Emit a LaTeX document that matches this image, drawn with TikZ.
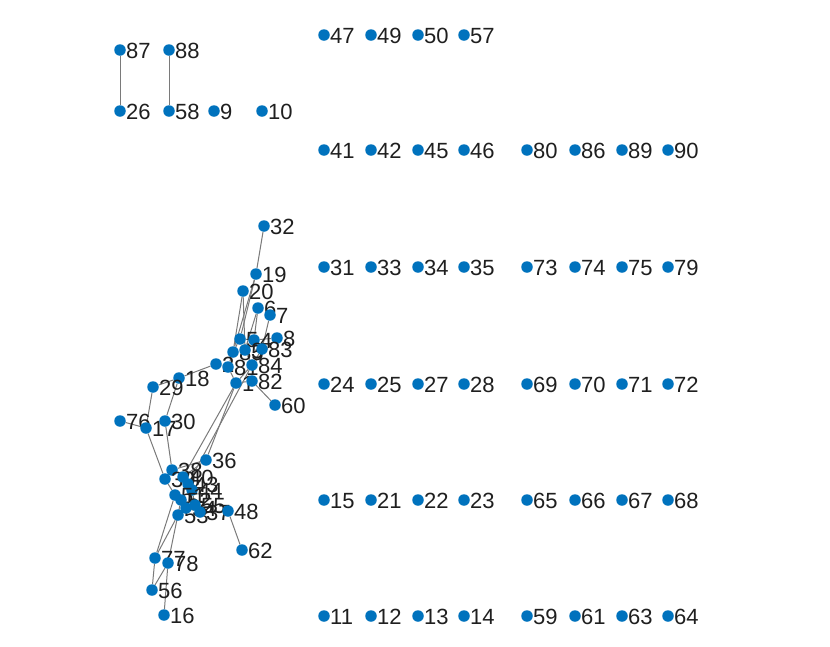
\documentclass[tikz,border=0pt]{standalone}
\usepackage{fontspec}
\setmainfont{Liberation Sans}
\usetikzlibrary{backgrounds}
\definecolor{mblue}{RGB}{0,114,189}
\begin{document}
\begin{tikzpicture}[x=1pt,y=-1pt,
  lbl/.style={font=\fontsize{22}{23}\selectfont, inner sep=0pt, text=black!88, yshift=-1pt},
  vx/.style={circle, fill=mblue, inner sep=0pt, minimum size=11.5pt, label distance=7pt, label={[lbl]right:#1}},
  ed/.style={draw=black!52, line width=1pt}]
\useasboundingbox (0,0) rectangle (830,646);
% isolated grid and small components
\foreach \n/\x/\y in {
  87/120/50, 88/169/50, 26/120/111, 58/169/111, 9/214/111, 10/262/111,
  47/324/35, 49/371/35, 50/418/35, 57/464/35,
  41/324/150, 42/371/150, 45/418/150, 46/464/150, 80/527/150, 86/575/150, 89/622/150, 90/668/150,
  31/324/267, 33/371/267, 34/418/267, 35/464/267, 73/527/267, 74/575/267, 75/622/267, 79/668/267,
  24/324/384, 25/371/384, 27/418/384, 28/464/384, 69/527/384, 70/575/384, 71/622/384, 72/668/384,
  15/324/500, 21/371/500, 22/418/500, 23/464/500, 65/527/500, 66/575/500, 67/622/500, 68/668/500,
  11/324/616, 12/371/616, 13/418/616, 14/464/616, 59/527/616, 61/575/616, 63/622/616, 64/668/616}
  \node[vx=\n] (n\n) at (\x,\y) {};
% main component, upper part
\foreach \n/\x/\y in {
  32/264/226, 19/256/274, 20/243/291, 6/258/308, 7/270/315,
  5/240/339, 4/254/340, 8/277/338, 85/233/352, 3/245/350, 83/262/349,
  2/216/364, 81/228/367, 84/252/365, 1/236/383, 82/252/381,
  18/179/378, 29/153/387, 60/275/405}
  \node[vx=\n] (n\n) at (\x,\y) {};
% main component, lower part
\foreach \n/\x/\y in {
  76/120/421, 17/146/428, 30/165/421, 36/206/460,
  38/172/470, 39/165/479, 40/183/477, 43/188/484, 44/192/490,
  51/175/495, 52/181/500, 53/178/515, 54/186/508, 55/195/505, 37/200/512,
  48/228/511, 62/242/550, 77/155/558, 78/168/563, 56/152/590, 16/164/615}
  \node[vx=\n] (n\n) at (\x,\y) {};
\begin{pgfonlayer}{background}
\foreach \a/\b in {87/26, 88/58,
  32/19, 19/5, 19/85, 20/85, 20/3, 6/4, 6/3, 7/83, 8/4, 8/84,
  5/85, 5/4, 85/81, 81/2, 2/18, 18/29, 81/1, 84/1, 82/1, 83/84, 82/60, 3/84,
  29/17, 18/30, 76/17, 17/39, 30/38, 1/36, 1/40, 84/43,
  36/38, 36/40, 38/39, 39/51, 40/43, 43/44, 44/55, 51/52, 52/54, 54/53,
  55/37, 37/48, 48/62, 53/77, 52/78, 51/77, 77/56, 78/56, 78/16, 54/37}
  \draw[ed] (n\a) -- (n\b);
\end{pgfonlayer}
\end{tikzpicture}
\end{document}
